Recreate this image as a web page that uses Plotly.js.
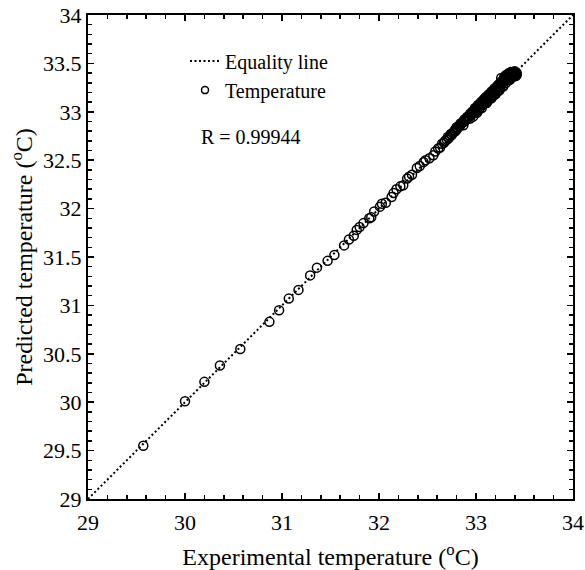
<!DOCTYPE html>
<html>
<head>
<meta charset="utf-8">
<script src="https://cdn.plot.ly/plotly-3.0.1.min.js"></script>
<style>html,body{margin:0;padding:0;background:#fff;}#chart{width:585px;height:570px;}</style>
</head>
<body>
<div id="chart"></div>
<script>
// Equality line endpoints
const equalityX = [29, 34];
const equalityY = [29, 34];

// Experimental vs predicted temperature (°C)
const experimental = [
  29.57, 30.00, 30.20, 30.36, 30.57, 30.87, 30.97, 31.07, 31.17, 31.29,
  31.36, 31.47, 31.54, 31.64, 31.69, 31.74, 31.77, 31.80, 31.84, 31.90,
  31.92, 31.95, 32.01, 32.03, 32.07, 32.13, 32.15, 32.18, 32.22, 32.25,
  32.29, 32.31, 32.34, 32.39, 32.42, 32.46, 32.48, 32.52, 32.56,
  32.58, 32.61, 32.63, 32.65, 32.67, 32.68, 32.70, 32.72, 32.73, 32.75,
  32.76, 32.77, 32.79, 32.80, 32.81, 32.83, 32.84, 32.85, 32.86, 32.87,
  32.88, 32.89, 32.90, 32.92, 32.93, 32.94, 32.95, 32.96, 32.97, 32.98,
  33.00, 33.01, 33.02, 33.03, 33.04, 33.05, 33.06, 33.08, 33.09, 33.10,
  33.11, 33.12, 33.13, 33.14, 33.15, 33.16, 33.17, 33.18, 33.19, 33.20,
  33.21, 33.22, 33.24, 33.25, 33.26, 33.26, 33.27, 33.28, 33.29, 33.29,
  33.30, 33.31, 33.31, 33.32, 33.33, 33.33, 33.34, 33.35, 33.36, 33.36,
  33.37, 33.38, 33.38, 33.39, 33.40, 33.41,
  32.74, 32.78, 32.82, 32.91, 32.99, 33.03, 33.07, 33.12, 33.15, 33.18,
  33.21, 33.23, 33.25, 33.27, 33.30, 33.32, 33.34, 33.37, 33.39, 33.40,
  32.97, 33.01, 33.06, 33.11, 33.16, 33.20, 33.24, 33.28, 33.35, 33.41,
  32.96, 32.99, 33.02, 33.05, 33.08, 33.10, 33.13, 33.16, 33.19, 33.22,
  33.24, 33.26, 33.28, 33.30, 33.32, 33.34, 33.36, 33.38,
  33.00, 33.04, 33.07, 33.10, 33.13, 33.16, 33.19, 33.22, 33.25, 33.28,
  33.31, 33.34, 33.37, 33.40, 33.42, 33.42,
  32.88, 32.91, 32.94, 32.80, 32.84, 32.71
];
const predicted = [
  29.55, 30.01, 30.21, 30.38, 30.55, 30.83, 30.95, 31.07, 31.16, 31.31,
  31.39, 31.46, 31.52, 31.62, 31.68, 31.72, 31.78, 31.81, 31.85, 31.90,
  31.91, 31.97, 32.02, 32.05, 32.06, 32.12, 32.16, 32.20, 32.23, 32.24,
  32.31, 32.33, 32.35, 32.42, 32.44, 32.48, 32.50, 32.52, 32.55,
  32.59, 32.62, 32.63, 32.67, 32.68, 32.70, 32.71, 32.73, 32.75, 32.76,
  32.78, 32.79, 32.80, 32.82, 32.83, 32.85, 32.86, 32.88, 32.89, 32.86,
  32.90, 32.91, 32.92, 32.94, 32.95, 32.93, 32.97, 32.98, 33.00, 33.01,
  33.02, 33.03, 33.05, 33.02, 33.06, 33.08, 33.09, 33.10, 33.11, 33.12,
  33.14, 33.11, 33.15, 33.16, 33.18, 33.19, 33.16, 33.20, 33.21, 33.22,
  33.24, 33.25, 33.26, 33.27, 33.29, 33.35, 33.30, 33.31, 33.32, 33.36,
  33.33, 33.34, 33.38, 33.35, 33.36, 33.39, 33.36, 33.37, 33.38, 33.35,
  33.38, 33.39, 33.36, 33.39, 33.40, 33.39,
  32.77, 32.81, 32.85, 32.94, 33.03, 33.07, 33.11, 33.16, 33.19, 33.22,
  33.25, 33.27, 33.29, 33.31, 33.34, 33.37, 33.39, 33.40, 33.41, 33.42,
  32.95, 32.99, 33.04, 33.09, 33.14, 33.18, 33.22, 33.26, 33.33, 33.37,
  33.00, 33.04, 33.07, 33.10, 33.13, 33.15, 33.18, 33.21, 33.24, 33.27,
  33.29, 33.31, 33.33, 33.36, 33.38, 33.40, 33.41, 33.41,
  33.00, 33.04, 33.07, 33.09, 33.13, 33.15, 33.18, 33.21, 33.24, 33.27,
  33.30, 33.33, 33.37, 33.38, 33.40, 33.38,
  32.92, 32.95, 32.98, 32.84, 32.88, 32.74
];

const xTicks = [29, 30, 31, 32, 33, 34];
const yTicks = [29, 29.5, 30, 30.5, 31, 31.5, 32, 32.5, 33, 33.5, 34];

const serif = "'Liberation Serif', 'Times New Roman', serif";

const traces = [
  {
    x: equalityX, y: equalityY, mode: 'lines', name: 'Equality line',
    line: {color: '#000', width: 2, dash: '2px,2.5px'}
  },
  {
    x: experimental, y: predicted, mode: 'markers', name: 'Temperature', showlegend: false,
    marker: {symbol: 'circle-open', size: 9, color: '#000', line: {width: 1.5, color: '#000'}}
  },
  {
    // legend entry only (smaller symbol as in the reference legend)
    x: [null], y: [null], mode: 'markers', name: 'Temperature',
    marker: {symbol: 'circle-open', size: 7, color: '#000', line: {width: 1.5, color: '#000'}}
  }
];

const axisCommon = {
  showline: true, linewidth: 2, linecolor: '#000', mirror: 'ticks',
  ticks: 'inside', ticklen: 6, tickwidth: 1.5, tickcolor: '#000',
  showgrid: false, zeroline: false,
  tickfont: {family: serif, size: 22, color: '#000'}
};

const layout = {
  width: 585, height: 570,
  margin: {l: 88, r: 12, t: 15, b: 71},
  paper_bgcolor: '#fff', plot_bgcolor: '#fff',
  showlegend: true,
  legend: {
    x: 0.20, y: 0.945, xanchor: 'left', yanchor: 'top',
    bgcolor: 'rgba(0,0,0,0)', borderwidth: 0,
    font: {family: serif, size: 20, color: '#000'},
    tracegroupgap: 0
  },
  xaxis: Object.assign({}, axisCommon, {
    range: [29, 34], tickvals: xTicks, ticktext: xTicks.map(String),
    ticklabelstandoff: 3,
    minor: {dtick: 0.2, ticklen: 4, tickwidth: 1.5, tickcolor: '#000', ticks: 'inside'},
    title: {text: 'Experimental temperature (<sup>o</sup>C)', standoff: 14, font: {family: serif, size: 24, color: '#000'}}
  }),
  yaxis: Object.assign({}, axisCommon, {
    range: [29, 34], tickvals: yTicks, ticktext: yTicks.map(String),
    minor: {dtick: 0.1, ticklen: 4, tickwidth: 1.5, tickcolor: '#000', ticks: 'inside'},
    title: {text: 'Predicted temperature (<sup>o</sup>C)', standoff: 4, font: {family: serif, size: 24, color: '#000'}}
  }),
  annotations: [{
    xref: 'paper', yref: 'paper', x: 0.229, y: 0.748, xanchor: 'left', yanchor: 'middle',
    text: 'R = 0.99944', showarrow: false,
    font: {family: serif, size: 20, color: '#000'}
  }]
};

Plotly.newPlot('chart', traces, layout, {displayModeBar: false, staticPlot: true});
</script>
</body>
</html>
